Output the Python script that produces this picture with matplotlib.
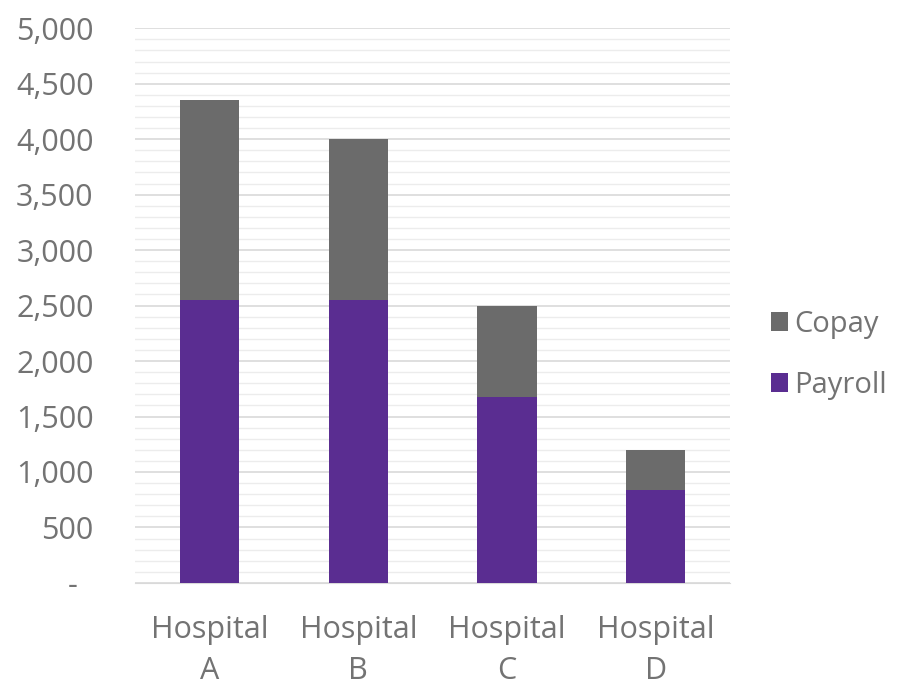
import numpy as np
import matplotlib
matplotlib.use("Agg")
from matplotlib import pyplot as plt
from matplotlib.ticker import MultipleLocator, FuncFormatter

hospitals = ["Hospital\nA", "Hospital\nB", "Hospital\nC", "Hospital\nD"]
payroll = [2550, 2550, 1680, 840]
copay = [1800, 1450, 820, 360]

plt.rcParams['font.family'] = ['Open Sans', 'DejaVu Sans']
text_grey = '#737373'

fig = plt.figure(figsize=(9.08, 6.89), dpi=100)
ax = fig.add_axes([0.149, 0.154, 0.655, 0.805])

x = np.arange(len(hospitals))
ax.bar(x, payroll, width=0.4, color='#5a2d91', label='Payroll', zorder=3)
ax.bar(x, copay, width=0.4, bottom=payroll, color='#6b6b6b', label='Copay', zorder=3)

ax.set_xlim(-0.5, 3.5)
ax.set_ylim(0, 5000)
ax.yaxis.set_major_locator(MultipleLocator(500))
ax.yaxis.set_minor_locator(MultipleLocator(100))
ax.yaxis.set_major_formatter(FuncFormatter(lambda v, p: '-  ' if v == 0 else f'{int(v):,}'))
ax.grid(axis='y', which='major', color='#d9d9d9', linewidth=1.2, zorder=0)
ax.grid(axis='y', which='minor', color='#ececec', linewidth=1, zorder=0)

ax.set_xticks(x)
ax.set_xticklabels(hospitals, linespacing=1.5)
ax.tick_params(axis='both', which='both', length=0, labelsize=22, colors=text_grey)
ax.tick_params(axis='x', pad=23)
ax.tick_params(axis='y', pad=30)

for s in ['top', 'right', 'left']:
    ax.spines[s].set_visible(False)
ax.spines['bottom'].set_color('#d9d9d9')

handles, labels = ax.get_legend_handles_labels()
leg = fig.legend(handles[::-1], labels[::-1], loc='center left', bbox_to_anchor=(0.82, 0.485),
                 frameon=False, fontsize=21, labelcolor=text_grey, handlelength=0.6, handleheight=0.6,
                 handletextpad=0.2, labelspacing=1.1)

plt.savefig('out.png', dpi=100)
plt.close()
